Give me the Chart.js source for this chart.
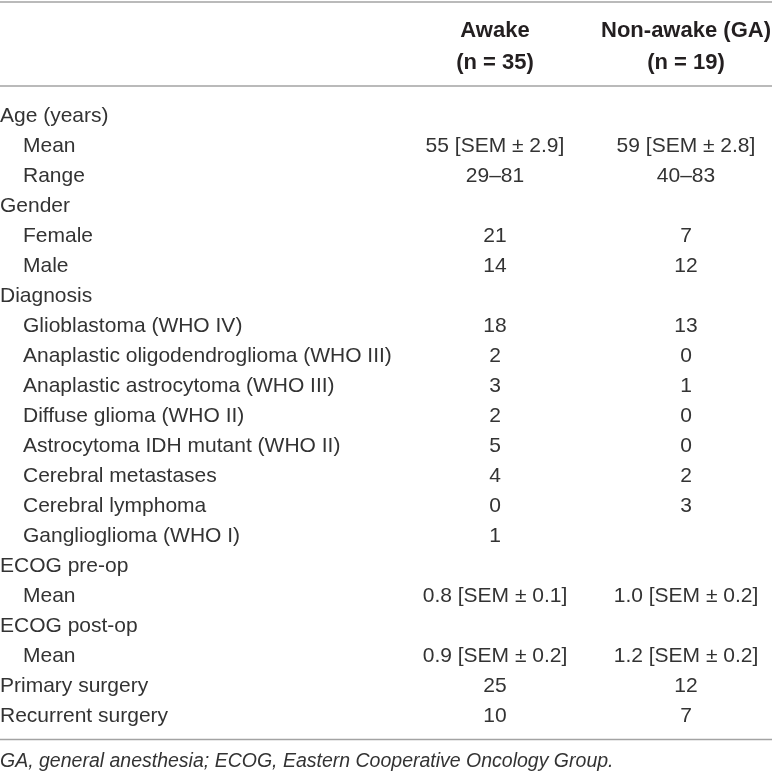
<!DOCTYPE html>
<html>
<head>
<meta charset="utf-8">
<script src="https://cdn.jsdelivr.net/npm/chart.js@4.4.1/dist/chart.umd.min.js"></script>
<style>
  html, body { margin: 0; padding: 0; background: #fff; }
  #wrap { width: 772px; height: 774px; position: relative; }
</style>
</head>
<body>
<div id="wrap"><canvas id="tableChart"></canvas></div>
<script>
// Datos de la tabla
const columnHeaders = [['Awake', '(n = 35)'], ['Non-awake (GA)', '(n = 19)']];
const rowLabels = [
    'Age (years)', 'Mean', 'Range',
    'Gender', 'Female', 'Male',
    'Diagnosis', 'Glioblastoma (WHO IV)', 'Anaplastic oligodendroglioma (WHO III)',
    'Anaplastic astrocytoma (WHO III)', 'Diffuse glioma (WHO II)', 'Astrocytoma IDH mutant (WHO II)',
    'Cerebral metastases', 'Cerebral lymphoma', 'Ganglioglioma (WHO I)',
    'ECOG pre-op', 'Mean', 'ECOG post-op', 'Mean',
    'Primary surgery', 'Recurrent surgery'
];
const rowIndent = [0, 1, 1, 0, 1, 1, 0, 1, 1, 1, 1, 1, 1, 1, 1, 0, 1, 0, 1, 0, 0];
const awakeValues = [
    '', '55 [SEM ± 2.9]', '29–81',
    '', '21', '14',
    '', '18', '2', '3', '2', '5', '4', '0', '1',
    '', '0.8 [SEM ± 0.1]', '', '0.9 [SEM ± 0.2]',
    '25', '10'
];
const nonAwakeValues = [
    '', '59 [SEM ± 2.8]', '40–83',
    '', '7', '12',
    '', '13', '0', '1', '0', '0', '2', '3', '',
    '', '1.0 [SEM ± 0.2]', '', '1.2 [SEM ± 0.2]',
    '12', '7'
];
const footnote = 'GA, general anesthesia; ECOG, Eastern Cooperative Oncology Group.';

// Posición de las columnas (en unidades del eje x) y estilos
const columnX = [495, 686];
const FONT = '"Liberation Sans", Arial, sans-serif';
const TEXT_COLOR = '#333333';
const HEAD_COLOR = '#231f20';
const RULE_COLOR = '#a3a3a3';

// Convierte una columna de valores en puntos del dataset
function toPoints(values, x) {
    return values
        .map((v, i) => ({ x: x, y: i, text: v }))
        .filter(p => p.text !== '');
}

// Plugin que dibuja la tabla (texto y líneas) usando las escalas
const tablePlugin = {
    id: 'tablePlugin',
    afterDatasetsDraw(chart) {
        const ctx = chart.ctx;
        const area = chart.chartArea;
        const xs = chart.scales.x;
        const ys = chart.scales.y;
        ctx.save();
        ctx.textBaseline = 'middle';

        // Líneas horizontales
        ctx.strokeStyle = RULE_COLOR;
        ctx.lineWidth = 1.5;
        [area.top - 99, area.top - 15, area.bottom + 8.5].forEach(y => {
            ctx.beginPath();
            ctx.moveTo(0, y);
            ctx.lineTo(chart.width, y);
            ctx.stroke();
        });

        // Cabeceras
        ctx.fillStyle = HEAD_COLOR;
        ctx.font = 'bold 22px ' + FONT;
        ctx.textAlign = 'center';
        columnHeaders.forEach((lines, c) => {
            const x = xs.getPixelForValue(columnX[c]);
            ctx.fillText(lines[0], x, area.top - 70);
            ctx.fillText(lines[1], x, area.top - 38);
        });

        // Etiquetas de fila
        ctx.fillStyle = TEXT_COLOR;
        ctx.font = '21px ' + FONT;
        ctx.textAlign = 'left';
        rowLabels.forEach((label, i) => {
            ctx.fillText(label, area.left + rowIndent[i] * 23, ys.getPixelForValue(i));
        });

        // Celdas: una por punto de cada dataset
        ctx.textAlign = 'center';
        chart.data.datasets.forEach((ds, d) => {
            const meta = chart.getDatasetMeta(d);
            meta.data.forEach((pt, j) => {
                ctx.fillText(ds.data[j].text, pt.x, pt.y);
            });
        });

        // Nota al pie
        ctx.font = 'italic 19.5px ' + FONT;
        ctx.textAlign = 'left';
        ctx.fillText(footnote, area.left, area.bottom + 31);
        ctx.restore();
    }
};

new Chart(document.getElementById('tableChart'), {
    type: 'scatter',
    data: {
        datasets: [
            { label: columnHeaders[0][0], data: toPoints(awakeValues, columnX[0]), pointRadius: 0 },
            { label: columnHeaders[1][0], data: toPoints(nonAwakeValues, columnX[1]), pointRadius: 0 }
        ]
    },
    options: {
        responsive: true,
        maintainAspectRatio: false,
        animation: false,
        layout: { padding: { top: 101, bottom: 43, left: 0, right: 0 } },
        plugins: { legend: { display: false }, tooltip: { enabled: false } },
        scales: {
            x: { type: 'linear', min: 0, max: 772, display: false },
            y: { type: 'linear', reverse: true, min: -0.5, max: rowLabels.length - 0.5, display: false }
        }
    },
    plugins: [tablePlugin]
});
</script>
</body>
</html>
